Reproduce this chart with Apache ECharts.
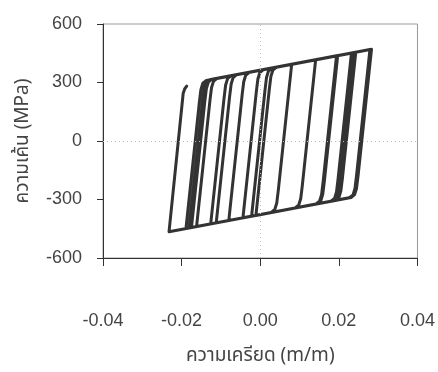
<!DOCTYPE html>
<html>
<head>
<meta charset="utf-8">
<script src="https://cdn.jsdelivr.net/npm/echarts@6/dist/echarts.min.js"></script>
<style>
html,body{margin:0;padding:0;background:#fff;}
#chart{width:438px;height:372px;}
</style>
</head>
<body>
<div id="chart"></div>
<script>
const strain = [
 -0.0189,-0.0155,-0.0151,-0.0146,-0.0137,
 0.0080,0.0046,0.0042,0.0037,0.0028,
 -0.0181,-0.0147,-0.0143,-0.0138,-0.0129,
 0.0141,0.0107,0.0103,0.0098,0.0089,
 -0.0175,-0.0141,-0.0137,-0.0132,-0.0123,
 0.0194,0.0160,0.0156,0.0151,0.0142,
 -0.0162,-0.0128,-0.0124,-0.0119,-0.0110,
 0.0197,0.0163,0.0159,0.0154,0.0145,
 -0.0126,-0.0092,-0.0088,-0.0083,-0.0074,
 0.0232,0.0198,0.0194,0.0189,0.0180,
 -0.0112,-0.0078,-0.0074,-0.0069,-0.0060,
 0.0237,0.0203,0.0199,0.0194,0.0185,
 -0.0080,-0.0046,-0.0042,-0.0037,-0.0028,
 0.0243,0.0209,0.0205,0.0200,0.0191,
 -0.0044,-0.0010,-0.0006,-0.0001,0.0008,
 0.0279,0.0245,0.0241,0.0236,0.0227,
 -0.0022,0.0012,0.0016,0.0021,0.0030,
 0.0281,0.0247,0.0243,0.0238,0.0229,
 -0.0011,0.0023,0.0027,0.0032,0.0041,
 0.0283,0.0249,0.0245,0.0240,0.0231,
 -0.0232,-0.0196,-0.0192,-0.0187
];
const stress = [
 -449,197,263,296,311,
 394,-252,-318,-351,-366,
 -446,200,266,299,314,
 417,-229,-295,-328,-343,
 -444,203,269,302,317,
 437,-209,-275,-308,-323,
 -439,207,273,306,321,
 438,-208,-274,-307,-322,
 -425,221,287,320,335,
 451,-195,-261,-294,-309,
 -420,226,292,325,340,
 453,-193,-259,-292,-307,
 -408,238,304,337,352,
 455,-191,-257,-290,-305,
 -394,252,318,351,366,
 469,-177,-243,-276,-291,
 -386,260,326,359,374,
 470,-176,-242,-275,-290,
 -382,264,330,363,378,
 470,-176,-242,-275,-290,
 -465,245,268,281
];
const xTicks = [-0.04, -0.02, 0.00, 0.02, 0.04];
const yTicks = [-600, -300, 0, 300, 600];
const xTitle = 'ความเครียด (m/m)';
const yTitle = 'ความเค้น (MPa)';

const numFont = '"Liberation Sans", Arial, sans-serif';
const thaiFont = '"Noto Sans Thai", "Loma", "Garuda", "Tlwg Typo", "DejaVu Sans", "Liberation Sans", sans-serif';
const textColor = '#444';

const chart = echarts.init(document.getElementById('chart'), null, {renderer: 'canvas'});
chart.setOption({
  animation: false,
  backgroundColor: '#fff',
  grid: {left: 103, top: 24, right: 20, bottom: 114, show: true, borderColor: '#999', borderWidth: 1, containLabel: false},
  xAxis: {
    type: 'value', min: xTicks[0], max: xTicks[xTicks.length - 1], interval: 0.02,
    axisLine: {onZero: false, lineStyle: {color: '#333', width: 1}},
    axisTick: {show: true, inside: false, length: 8, lineStyle: {color: '#333'}},
    axisLabel: {margin: 54, fontSize: 18, color: textColor, fontFamily: numFont, formatter: v => v.toFixed(2)},
    splitLine: {show: false},
    name: xTitle, nameLocation: 'middle', nameGap: 90,
    nameTextStyle: {fontSize: 19, color: textColor, fontFamily: thaiFont}
  },
  yAxis: {
    type: 'value', min: yTicks[0], max: yTicks[yTicks.length - 1], interval: 300,
    axisLine: {onZero: false, lineStyle: {color: '#333', width: 1}},
    axisTick: {show: true, inside: false, length: 6, lineStyle: {color: '#333'}},
    axisLabel: {margin: 21, fontSize: 18, color: textColor, fontFamily: numFont},
    splitLine: {show: false},
    name: yTitle, nameLocation: 'middle', nameGap: 69, nameRotate: 90,
    nameTextStyle: {fontSize: 19, color: textColor, fontFamily: thaiFont}
  },
  series: [
    {
      type: 'line', data: [[0, 0]], showSymbol: false, silent: true,
      lineStyle: {opacity: 0}, z: 1,
      markLine: {
        silent: true, symbol: 'none', animation: false,
        label: {show: false},
        lineStyle: {type: [1, 3], color: '#bbb', width: 1},
        data: [{xAxis: 0}, {yAxis: 0}]
      }
    },
    {
      type: 'line', data: strain.map((s, i) => [s, stress[i]]),
      showSymbol: false, smooth: false, z: 3,
      lineStyle: {color: '#333', width: 3, join: 'round', cap: 'round'}
    }
  ]
});
</script>
</body>
</html>
